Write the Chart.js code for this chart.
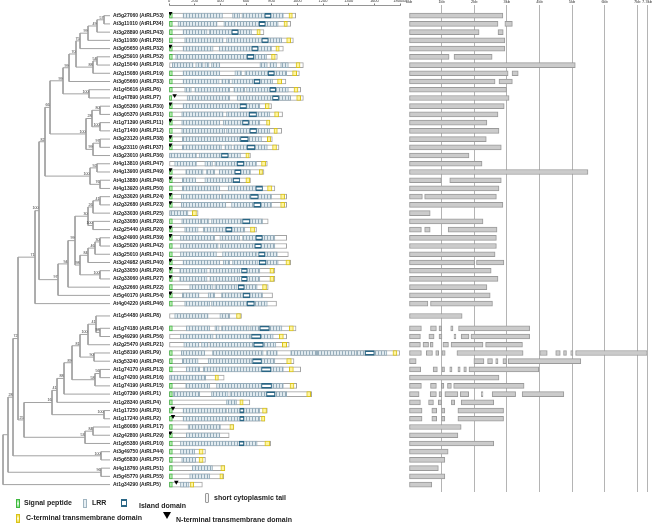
<!DOCTYPE html>
<html>
<head>
<meta charset="utf-8">
<script src="https://cdn.jsdelivr.net/npm/chart.js@4.4.1/dist/chart.umd.min.js"></script>
<style>
  body { margin: 0; background: #fff; }
  #wrap { position: relative; width: 661px; height: 526px; overflow: hidden; font-family: "Liberation Sans", Arial, sans-serif; }
  #wrap canvas { position: absolute; left: 0; top: 0; }
  .lg { position: absolute; font-size: 7px; font-weight: bold; color: #222; white-space: nowrap; }
  .ic { position: absolute; box-sizing: border-box; }
</style>
</head>
<body>
<div id="wrap">
  <canvas id="tree" width="661" height="526"></canvas>
  <canvas id="domains" width="661" height="526"></canvas>
  <canvas id="genes" width="661" height="526"></canvas>

  <div class="ic" style="left:16px;top:499px;width:4px;height:9px;border:1px solid #3fb83f;background:linear-gradient(#7ee07e,#e8fbe8,#7ee07e);"></div>
  <div class="lg" style="left:24px;top:499px;">Signal peptide</div>
  <div class="ic" style="left:83px;top:499px;width:4px;height:9px;border:1px solid #9fb4c0;background:#e6eef3;"></div>
  <div class="lg" style="left:92px;top:499px;">LRR</div>
  <div class="ic" style="left:121px;top:499px;width:6px;height:8px;border-top:2.5px solid #2a6685;border-bottom:2.5px solid #2a6685;border-left:1px solid #2a6685;border-right:1px solid #2a6685;background:#fff;"></div>
  <div class="lg" style="left:139px;top:502px;">Island domain</div>
  <div class="ic" style="left:205px;top:493px;width:4px;height:10px;border:1px solid #999;border-radius:1px;background:#f4f4f4;"></div>
  <div class="lg" style="left:214px;top:494px;">short cytoplasmic tail</div>
  <div class="ic" style="left:16px;top:514px;width:4px;height:9px;border:1px solid #d9c31a;background:linear-gradient(#f2e04a,#fffbd8,#f2e04a);"></div>
  <div class="lg" style="left:26px;top:514px;">C-terminal transmembrane domain</div>
  <div class="ic" style="left:163px;top:512px;width:0;height:0;border-left:4.5px solid transparent;border-right:4.5px solid transparent;border-top:7px solid #000;"></div>
  <div class="lg" style="left:176px;top:516px;">N-terminal transmembrane domain</div>
</div>
<script>
// gene labels, top to bottom
const genes = ["At5g27060 (AtRLP53)", "At3g11010 (AtRLP34)", "At3g28890 (AtRLP43)", "At3g11080 (AtRLP35)", "At3g05650 (AtRLP32)",
  "At5g25910 (AtRLP52)", "At2g15040 (AtRLP18)", "At2g15080 (AtRLP19)", "At3g05660 (AtRLP33)", "At1g45616 (AtRLP6)",
  "At1g47890 (AtRLP7)", "At3g05360 (AtRLP30)", "At3g05370 (AtRLP31)", "At1g71390 (AtRLP11)", "At1g71400 (AtRLP12)",
  "At3g23120 (AtRLP38)", "At3g23110 (AtRLP37)", "At3g23010 (AtRLP36)", "At4g13810 (AtRLP47)", "At4g13900 (AtRLP49)",
  "At4g13880 (AtRLP48)", "At4g13920 (AtRLP50)", "At2g33020 (AtRLP24)", "At2g32680 (AtRLP23)", "At2g33030 (AtRLP25)",
  "At2g33080 (AtRLP28)", "At2g25440 (AtRLP20)", "At3g24900 (AtRLP39)", "At3g25020 (AtRLP42)", "At3g25010 (AtRLP41)",
  "At3g24982 (AtRLP40)", "At2g33050 (AtRLP26)", "At2g33060 (AtRLP27)", "At2g32660 (AtRLP22)", "At5g40170 (AtRLP54)",
  "At4g04220 (AtRLP46)", "At1g54480 (AtRLP8)", "At1g74180 (AtRLP14)", "At5g49290 (AtRLP56)", "At2g25470 (AtRLP21)",
  "At1g58190 (AtRLP9)", "At3g53240 (AtRLP45)", "At1g74170 (AtRLP13)", "At1g74200 (AtRLP16)", "At1g74190 (AtRLP15)",
  "At1g07390 (AtRLP1)", "At1g28340 (AtRLP4)", "At1g17250 (AtRLP3)", "At1g17240 (AtRLP2)", "At1g80080 (AtRLP17)",
  "At2g42800 (AtRLP29)", "At1g65380 (AtRLP10)", "At3g49750 (AtRLP44)", "At5g65830 (AtRLP57)", "At4g18760 (AtRLP51)",
  "At5g45770 (AtRLP55)", "At1g34290 (AtRLP5)"];
// a half-row gap is left before these rows
const gapBefore = [36, 37];

// protein length (aa) and domains (aa ranges)
const protLen = [987, 948, 740, 969, 891, 844, 1047, 1016, 911, 1026,
  1047, 799, 885, 786, 878, 805, 857, 635, 766, 740,
  635, 825, 917, 917, 227, 773, 682, 917, 917, 930,
  948, 825, 825, 773, 807, 838, 565, 990, 917, 937,
  1797, 974, 1026, 430, 995, 1112, 630, 766, 747, 505,
  469, 792, 284, 284, 435, 427, 260];
const signalPeptide = [26, 26, 26, 26, 26, 26, 0, 26, 26, 26,
  20, 26, 26, 26, 26, 26, 26, 0, 0, 26,
  26, 26, 26, 26, 0, 26, 26, 26, 26, 26,
  26, 26, 26, 26, 26, 26, 0, 26, 0, 0,
  26, 26, 26, 0, 26, 26, 26, 26, 26, 26,
  26, 26, 26, 26, 26, 26, 26];
const nTermTM = [10, null, null, null, 10, null, null, null, null, null,
  44, 10, null, 10, null, 10, 10, null, null, 10,
  10, null, 10, 10, null, null, 10, 10, null, null,
  10, 10, 10, null, 10, null, null, null, null, null,
  null, null, null, null, null, null, null, 31, 31, null,
  10, null, null, null, null, null, 57];
const lrrBlocks = [
  [[109, 417], [495, 552], [568, 747], [794, 891]],
  [[70, 375], [427, 516], [531, 703], [750, 851]],
  [[109, 297], [312, 490], [539, 643]],
  [[122, 422], [448, 724], [773, 878]],
  [[109, 344], [391, 646], [693, 799]],
  [[52, 609], [661, 760]],
  [[26, 188], [208, 266], [279, 312], [331, 396], [708, 766], [786, 838], [870, 930]],
  [[109, 396], [513, 565], [591, 773], [820, 917]],
  [[109, 391], [411, 474], [490, 664], [708, 807]],
  [[122, 174], [201, 474], [505, 591], [604, 786], [831, 930]],
  [[141, 474], [531, 807], [854, 948]],
  [[109, 539], [604, 708]],
  [[99, 422], [448, 625], [682, 786]],
  [[99, 396], [422, 573], [620, 708]],
  [[99, 435], [448, 630], [682, 786]],
  [[104, 552], [617, 721]],
  [[104, 409], [435, 487], [505, 609], [669, 766]],
  [[0, 214], [234, 409], [461, 557]],
  [[44, 214], [279, 339], [357, 531], [583, 682]],
  [[130, 266], [292, 357], [391, 513], [560, 635]],
  [[104, 208], [279, 500]],
  [[104, 396], [461, 677]],
  [[96, 396], [409, 630], [695, 799]],
  [[96, 443], [487, 661], [714, 799]],
  [[5, 148]],
  [[99, 234], [245, 312], [331, 565], [630, 729]],
  [[122, 227], [266, 443], [490, 591]],
  [[89, 357], [396, 552], [573, 677], [727, 825]],
  [[89, 383], [401, 669], [719, 825]],
  [[89, 370], [417, 687], [747, 844]],
  [[109, 396], [422, 474], [495, 695], [755, 851]],
  [[83, 297], [318, 552], [609, 708]],
  [[83, 297], [318, 552], [609, 708]],
  [[161, 344], [357, 531], [586, 687]],
  [[104, 234], [305, 357], [409, 578], [630, 729]],
  [[122, 318], [331, 609], [664, 766]],
  [[44, 305], [396, 474]],
  [[135, 318], [357, 391], [409, 625], [635, 708], [781, 880]],
  [[89, 344], [365, 635], [714, 812]],
  [[115, 234], [253, 305], [318, 661], [734, 833]],
  [[96, 279], [339, 734], [760, 844], [948, 1151], [1156, 1450], [1458, 1529], [1599, 1698]],
  [[104, 227], [305, 643], [721, 825]],
  [[135, 240], [266, 721], [794, 891]],
  [[5, 286]],
  [[130, 318], [370, 721], [799, 891]],
  [[31, 240], [331, 461], [474, 760], [825, 917]],
  [[448, 526]],
  [[109, 448], [461, 552], [583, 708]],
  [[109, 448], [461, 552], [583, 708]],
  [[148, 401]],
  [[135, 396]],
  [[89, 539], [583, 687]],
  [[89, 201]],
  [[99, 208]],
  [[182, 339]],
  [[161, 318]],
  [[89, 156]]
];
const islands = [[747, 794], [703, 750], [490, 539], [724, 773], [646, 693], [609, 661], null, [773, 820], [664, 708], [786, 831],
  [807, 854], [552, 604], [625, 682], [573, 620], [630, 682], [557, 617], [609, 669], [409, 461], [531, 583], [513, 560],
  [500, 552], [677, 729], [635, 695], [661, 714], null, [573, 630], [443, 490], [677, 727], [669, 719], [698, 747],
  [703, 755], [565, 609], [565, 609], [539, 586], [578, 630], [609, 664], null, [708, 781], [643, 714], [661, 734],
  [1529, 1599], [651, 721], [721, 794], null, [721, 799], [760, 825], null, [552, 583], [552, 583], null,
  null, [547, 583], null, null, null, null, null];
const cTermTM = [[935, 961], [896, 922], [685, 711], [917, 948], [833, 859], [799, 828], [990, 1021], [963, 995], [846, 878], [974, 1005],
  [995, 1026], [750, 781], [823, 854], [760, 786], [818, 844], [766, 792], [807, 838], [599, 625], [721, 753], [703, 729],
  [599, 630], [768, 802], [870, 901], [870, 901], [182, 214], null, [635, 667], null, null, null,
  [911, 943], [786, 818], [786, 818], [729, 760], null, null, [526, 557], [937, 969], [859, 891], [883, 917],
  [1745, 1776], [917, 953], [937, 969], [359, 385], [943, 974], [1073, 1104], [552, 578], [729, 760], [721, 747], [474, 505],
  null, [747, 786], [234, 266], [234, 266], [404, 435], [396, 422], [167, 193]];

// gene structure, exons in kb
const exons = [
  [[0, 2.88]], [[0, 2.73], [2.94, 3.17]], [[0, 2.15], [2.73, 2.89]], [[0, 2.94]], [[0, 2.94]],
  [[0, 1.23], [1.38, 2.55]], [[0, 5.10]], [[0, 3.04], [3.16, 3.35]], [[0, 2.64], [2.76, 3.17]], [[0, 2.99]],
  [[0, 3.07]], [[0, 2.92]], [[0, 2.73]], [[0, 2.39]], [[0, 2.76]],
  [[0, 2.37]], [[0, 2.83]], [[0, 1.84]], [[0, 2.24]], [[0, 5.49]],
  [[0, 0.99], [1.25, 2.83]], [[0, 2.76]], [[0, 0.41], [0.48, 2.68]], [[0, 2.88]], [[0, 0.65]],
  [[0, 2.27]], [[0, 0.38], [0.48, 0.65], [1.20, 2.70]], [[0, 2.68]], [[0, 2.68]], [[0, 2.64]],
  [[0, 2.01], [2.07, 2.91]], [[0, 2.52]], [[0, 2.73]], [[0, 2.39]], [[0, 2.49]],
  [[0, 0.58], [0.66, 2.56]], [[0, 1.63]],
  [[0, 0.38], [0.66, 0.84], [0.92, 1.00], [1.28, 1.35], [1.52, 3.70]],
  [[0, 0.35], [0.61, 0.77], [0.92, 1.01], [1.38, 1.44], [1.60, 1.84], [1.90, 3.70]],
  [[0, 0.35], [0.43, 0.60], [0.65, 0.74], [1.04, 1.21], [1.29, 2.27], [2.35, 3.48]],
  [[0, 0.38], [0.53, 0.72], [0.82, 0.91], [1.01, 1.11], [1.47, 3.50], [4.01, 4.24], [4.50, 4.64], [4.74, 4.83], [4.96, 5.03], [5.11, 7.31]],
  [[0, 0.22], [1.99, 2.30], [2.41, 2.56], [2.66, 2.73], [2.88, 2.99], [3.04, 5.27]],
  [[0, 0.36], [0.74, 0.87], [1.01, 1.09], [1.25, 1.32], [1.50, 1.57], [1.68, 1.76], [1.84, 3.98]],
  [[0, 2.76]],
  [[0, 0.38], [0.66, 0.84], [0.99, 1.07], [1.18, 1.30], [1.37, 3.53]],
  [[0, 0.31], [0.65, 0.84], [0.92, 1.00], [1.10, 1.50], [1.57, 1.83], [2.22, 2.27], [2.55, 3.27], [3.47, 4.75]],
  [[0, 0.35], [0.60, 0.75], [0.90, 1.00], [1.30, 1.40], [1.60, 2.60]],
  [[0, 0.40], [0.70, 0.85], [1.00, 1.10], [1.50, 2.90]],
  [[0, 0.40], [0.70, 0.85], [1.00, 1.10], [1.50, 2.90]],
  [[0, 1.60]], [[0, 1.50]], [[0, 2.60]], [[0, 1.20]], [[0, 1.10]], [[0, 0.90]], [[0, 1.10]], [[0, 0.70]]
];

// axis ticks
const kbTicks = [0, 1, 2, 3, 4, 5, 6, 7, 7.3];
const kbLabels = ["0kb", "1kb", "2kb", "3kb", "4kb", "5kb", "6kb", "7kb", "7.3kb"];

// tree: [node, x, child A, child B, bootstrap]; numbers are rows, strings are nodes
const treeNodes = [
  ["a", 104, 0, 1, "57"], ["b", 97, "a", 2, "49"], ["c", 88, "b", 3, "99"], ["d", 80, "c", 4, "75"],
  ["e", 97, 5, 6, "54"], ["f", 93, "e", 7, "88"], ["g", 76, "d", "f", "70"], ["h", 69, "g", 8, "99"],
  ["i", 89, 9, 10, "100"], ["j", 63, "h", "i", "99"],
  ["k", 100, 11, 12, "80"], ["l", 100, 13, 14, "100"], ["m", 92, "k", "l", "28"],
  ["n", 100, 15, 16, "97"], ["o", 93, "n", 17, "99"], ["p", 86, "m", "o", "100"], ["q", 50, "j", "p", "66"],
  ["r", 97, 18, 19, "92"], ["s", 100, 20, 21, "76"], ["t", 90, "r", "s", "100"], ["u", 45, "q", "t", "82"],
  ["v", 100, 22, 23, "41"], ["w", 93, "v", 24, "26"], ["x", 93, 25, 26, "100"], ["y", 88, "w", "x", "30"],
  ["z", 100, 27, 28, "30"], ["A", 95, "z", 29, "46"], ["B", 88, "A", 30, "84"], ["C", 100, 31, 32, "100"],
  ["D", 80, "B", "C", "98"], ["E", 75, "y", "D", "99"], ["F", 68, "E", 33, "94"], ["G", 58, "F", 34, "97"],
  ["H", 39, "u", "G", "100"], ["I", 35, "H", 35, "71"],
  ["J", 100, 37, 38, "98"], ["K", 96, 36, "J", "41"], ["L", 88, "K", 39, "100"], ["M", 94, 40, 41, "90"],
  ["N", 80, "L", "M", "81"], ["O", 100, 42, 43, "56"], ["P", 95, "O", 44, "58"], ["Q", 72, "N", "P", "89"],
  ["R", 64, "Q", 45, "88"], ["S", 57, "R", 46, "41"], ["T", 104, 47, 48, "100"], ["U", 52, "S", "T", "16"],
  ["V", 93, 49, 50, "84"], ["W", 85, "V", 51, "53"], ["X", 24, "U", "W", "25"], ["Y", 18, "I", "X", "72"],
  ["Z1", 101, 52, 53, "100"], ["Z2", 101, 54, 55, "96"], ["Z3", 13, "Y", "Z1", "28"], ["Z4", 8, "Z3", "Z2", ""],
  ["root", 3, "Z4", 56, ""]
];
const leafX = 110;

// ---- build ----
const rowPos = genes.map((g, i) => i + 0.5 * gapBefore.filter(r => r <= i).length);
const Y_MIN = -1.3, Y_MAX = 57.9;
const FONT = "'Liberation Sans', Arial, sans-serif";
const GAP = { x: null, y: null };

const nodeAt = {};
const treeSegs = [];
const supports = [];
treeNodes.forEach(([name, x, ca, cb, boot]) => {
  const kids = [ca, cb].map(c => typeof c === 'number' ? { x: leafX, y: rowPos[c] } : nodeAt[c]);
  const ny = (kids[0].y + kids[1].y) / 2;
  nodeAt[name] = { x, y: ny };
  treeSegs.push({ x, y: kids[0].y }, { x, y: kids[1].y }, GAP);
  kids.forEach(k => treeSegs.push({ x, y: k.y }, { x: k.x, y: k.y }, GAP));
  if (boot) supports.push({ x, y: ny, t: boot });
});

const supportLabels = {
  id: 'supportLabels',
  afterDatasetsDraw(chart) {
    const { ctx, scales: { x, y } } = chart;
    ctx.save();
    ctx.font = '3.6px ' + FONT;
    ctx.fillStyle = '#333';
    ctx.textAlign = 'right';
    ctx.textBaseline = 'bottom';
    supports.forEach(s => ctx.fillText(s.t, x.getPixelForValue(s.x) - 0.6, y.getPixelForValue(s.y) - 0.4));
    ctx.restore();
  }
};

new Chart(document.getElementById('tree'), {
  type: 'scatter',
  data: { datasets: [{ data: treeSegs, showLine: true, spanGaps: false, borderColor: '#a2a2a2', borderWidth: 1, pointRadius: 0 }] },
  options: {
    responsive: false, animation: false, events: [],
    layout: { padding: { left: 0, right: 551, top: 5, bottom: 34 } },
    plugins: { legend: { display: false }, tooltip: { enabled: false } },
    scales: {
      x: { type: 'linear', min: 0, max: 110, display: false },
      y: { type: 'linear', min: Y_MIN, max: Y_MAX, reverse: true, display: false }
    }
  },
  plugins: [supportLabels]
});

// LRR repeat fill
function lrrPattern() {
  const c = document.createElement('canvas');
  c.width = 3; c.height = 8;
  const g = c.getContext('2d');
  g.fillStyle = '#e2ebf0'; g.fillRect(0, 0, 3, 8);
  g.fillStyle = '#94acba'; g.fillRect(0, 0, 1, 8);
  return g.createPattern(c, 'repeat');
}

const bar = (label, data, bg, border, bw, order) => ({
  label, data, backgroundColor: bg, borderColor: border, borderWidth: bw, order,
  borderSkipped: false, grouped: false, barThickness: 5
});
const outlineData = protLen.map((l, i) => ({ x: [0, l], y: rowPos[i] }));
const lrrData = lrrBlocks.flatMap((bl, i) => bl.map(b => ({ x: b, y: rowPos[i] })));
const islandData = islands.flatMap((b, i) => b ? [{ x: b, y: rowPos[i] }] : []);
const spData = signalPeptide.flatMap((s, i) => s ? [{ x: [0, s], y: rowPos[i] }] : []);
const tmData = cTermTM.flatMap((b, i) => b ? [{ x: b, y: rowPos[i] }] : []);
const nTmData = nTermTM.flatMap((v, i) => v !== null ? [{ x: v, y: rowPos[i] - 0.3 }] : []);

new Chart(document.getElementById('domains'), {
  type: 'bar',
  data: {
    datasets: [
      bar('protein', outlineData, '#ffffff', '#a3a3a3', 1, 6),
      bar('LRR', lrrData, lrrPattern(), '#97adba', 1, 5),
      bar('Island domain', islandData, '#ffffff', '#2a6685', { top: 1.8, bottom: 1.8, left: 1, right: 1 }, 4),
      bar('Signal peptide', spData, '#c9f2c2', '#3cb83c', 1, 3),
      bar('C-terminal transmembrane domain', tmData, '#fff5a0', '#d8c21c', 1, 2),
      { type: 'scatter', label: 'N-terminal transmembrane domain', data: nTmData, indexAxis: 'x', order: 1,
        pointStyle: 'triangle', rotation: 180, radius: 2.6, backgroundColor: '#000', borderColor: '#000', borderWidth: 0 }
    ]
  },
  options: {
    indexAxis: 'y',
    responsive: false, animation: false, events: [],
    layout: { padding: { left: 113, right: 261, top: 0, bottom: 34 } },
    plugins: { legend: { display: false }, tooltip: { enabled: false } },
    scales: {
      x: {
        type: 'linear', position: 'top', min: 0, max: 1800,
        afterFit: s => { s.height = 5; },
        border: { display: true, color: '#7a7a7a', width: 0.8 },
        grid: { drawOnChartArea: false, drawTicks: true, tickLength: 1.5, color: '#7a7a7a' },
        ticks: { stepSize: 200, autoSkip: false, maxRotation: 0, padding: 0.5, color: '#333',
          font: { family: FONT, size: 4 }, callback: v => v === 1800 ? '1800aa' : String(v) }
      },
      y: {
        type: 'linear', position: 'left', min: Y_MIN, max: Y_MAX, reverse: true, offset: false,
        afterFit: s => { s.width = 56; },
        afterBuildTicks: s => { s.ticks = rowPos.map(v => ({ value: v })); },
        border: { display: false }, grid: { display: false },
        ticks: { autoSkip: false, crossAlign: 'far', padding: 0, color: '#1a1a1a',
          font: { family: FONT, size: 5, weight: 'bold' },
          callback: v => genes[rowPos.indexOf(v)] }
      }
    }
  }
});

const exonData = exons.flatMap((ex, i) => ex.map(e => ({ x: e, y: rowPos[i] })));

new Chart(document.getElementById('genes'), {
  type: 'bar',
  data: { datasets: [bar('exon', exonData, '#cbcbcb', '#9a9a9a', 1, 1)] },
  options: {
    indexAxis: 'y',
    responsive: false, animation: false, events: [],
    layout: { padding: { left: 409, right: 14, top: 0, bottom: 34 } },
    plugins: { legend: { display: false }, tooltip: { enabled: false } },
    scales: {
      x: {
        type: 'linear', position: 'top', min: 0, max: 7.3,
        afterFit: s => { s.height = 5; },
        afterBuildTicks: s => { s.ticks = kbTicks.map(v => ({ value: v })); },
        border: { display: false },
        grid: { drawTicks: false, lineWidth: 1, color: c => (c.tick && c.tick.value === 0) ? 'rgba(0,0,0,0)' : '#b4b4b4' },
        ticks: { autoSkip: false, maxRotation: 0, padding: 1, color: '#333', font: { family: FONT, size: 4 },
          callback: v => kbLabels[kbTicks.indexOf(v)] }
      },
      y: { type: 'linear', min: Y_MIN, max: Y_MAX, reverse: true, offset: false, display: false }
    }
  }
});
</script>
</body>
</html>
